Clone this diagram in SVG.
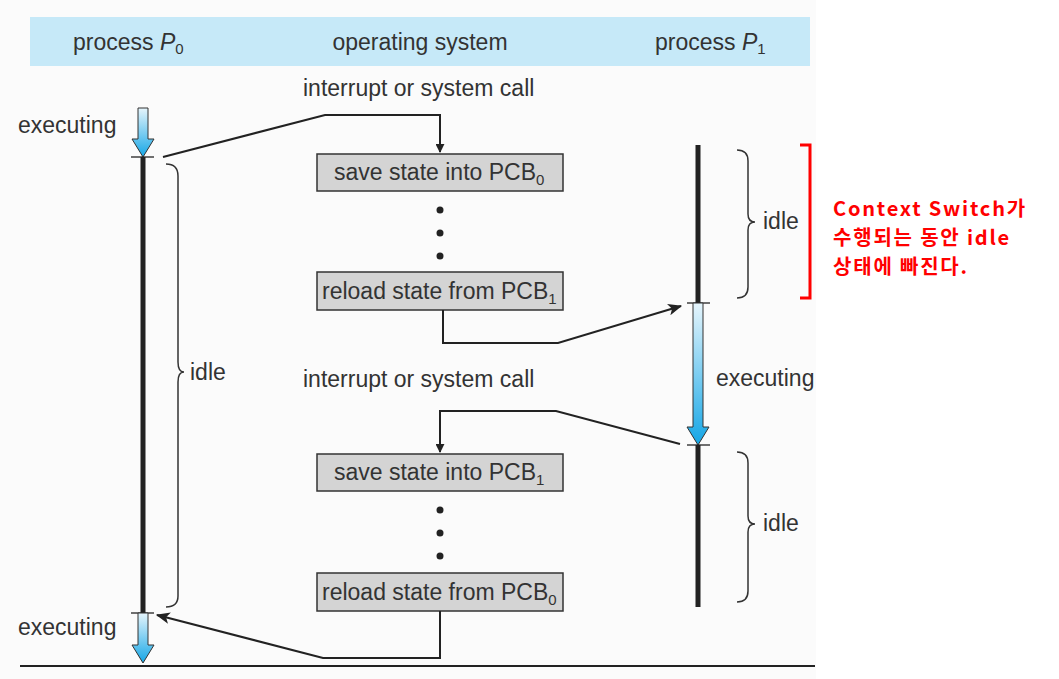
<svg xmlns="http://www.w3.org/2000/svg" width="1059" height="679" viewBox="0 0 1059 679">
<defs>
<linearGradient id="bg" x1="0" y1="0" x2="0" y2="1">
<stop offset="0" stop-color="#e6f5fc"/>
<stop offset="1" stop-color="#14a6e6"/>
</linearGradient>
<marker id="ah" viewBox="0 0 10 10" refX="9" refY="5" markerWidth="9" markerHeight="9" markerUnits="userSpaceOnUse" orient="auto">
<path d="M0,0 L10,5 L0,10 z" fill="#222"/>
</marker>
<marker id="ahb" viewBox="0 0 12 10" refX="11" refY="5" markerWidth="14" markerHeight="12" markerUnits="userSpaceOnUse" orient="auto">
<path d="M0,0 L12,5 L0,10 L3,5 z" fill="#222"/>
</marker>
</defs>
<style>
text{font-family:"Liberation Sans",Arial,sans-serif;font-size:23px;fill:#333}
.box{fill:#d4d4d4;stroke:#333;stroke-width:1.5}
.conn{fill:none;stroke:#222;stroke-width:2}
.tl{stroke:#222;stroke-width:5}
.tick{stroke:#222;stroke-width:1.3}
.brace{fill:none;stroke:#333;stroke-width:1.5}
.arr{fill:url(#bg);stroke:#333;stroke-width:1}
.red{font-family:"Noto Sans CJK KR","Noto Sans",sans-serif;font-weight:bold;fill:#ff0000;font-size:20px;letter-spacing:1.8px}
.sub{font-size:15px}
</style>
<rect width="1059" height="679" fill="#fff"/>
<rect x="0" y="0" width="816" height="679" fill="#fbfbfb"/>
<g id="header">
<rect x="30" y="17" width="780" height="49" fill="#c6e9f8"/>
<text x="73" y="50">process <tspan font-style="italic">P</tspan><tspan class="sub" dy="4">0</tspan></text>
<text x="420" y="50" text-anchor="middle">operating system</text>
<text x="655" y="50">process <tspan font-style="italic">P</tspan><tspan class="sub" dy="4">1</tspan></text>
</g>
<g id="p0">
<path class="arr" d="M138,108 H148 V139 H154 L143,157 L132,139 H138 Z"/>
<line class="tick" x1="131" y1="157" x2="154" y2="157"/>
<line class="tl" x1="143" y1="157" x2="143" y2="613"/>
<line class="tick" x1="131" y1="613" x2="154" y2="613"/>
<path class="arr" d="M138,613 H148 V645 H154 L143,663 L132,645 H138 Z"/>
<text x="18" y="133">executing</text>
<text x="18" y="635">executing</text>
<path class="brace" d="M166,164 Q178,164 178,176 V362 Q178,372 184,372 Q178,372 178,382 V596 Q178,607 166,607"/>
<text x="190" y="380">idle</text>
</g>
<g id="p1">
<line class="tl" x1="698" y1="145" x2="698" y2="303"/>
<line class="tick" x1="687" y1="303" x2="710" y2="303"/>
<path class="arr" d="M693,303 H703 V427 H709 L698,445 L687,427 H693 Z"/>
<line class="tick" x1="687" y1="445" x2="710" y2="445"/>
<line class="tl" x1="698" y1="445" x2="698" y2="607"/>
<text x="716" y="386">executing</text>
<path class="brace" d="M737,150 Q748,150 748,161 V214 Q748,222 755,222 Q748,222 748,230 V287 Q748,298 737,298"/>
<text x="763" y="229">idle</text>
<path class="brace" d="M737,452 Q748,452 748,463 V516 Q748,524 755,524 Q748,524 748,532 V591 Q748,602 737,602"/>
<text x="763" y="531">idle</text>
</g>
<g id="os">
<text x="303" y="96">interrupt or system call</text>
<text x="303" y="387">interrupt or system call</text>
<rect class="box" x="317" y="154" width="246" height="37"/>
<text x="334" y="180">save state into PCB<tspan class="sub" dy="5">0</tspan></text>
<rect class="box" x="317" y="272" width="246" height="38"/>
<text x="322" y="299">reload state from PCB<tspan class="sub" dy="5">1</tspan></text>
<rect class="box" x="317" y="454" width="246" height="37"/>
<text x="334" y="480">save state into PCB<tspan class="sub" dy="5">1</tspan></text>
<rect class="box" x="317" y="573" width="246" height="38"/>
<text x="322" y="600">reload state from PCB<tspan class="sub" dy="5">0</tspan></text>
<g fill="#222">
<circle cx="440" cy="210" r="3.5"/><circle cx="440" cy="233" r="3.5"/><circle cx="440" cy="256" r="3.5"/>
<circle cx="440" cy="510" r="3.5"/><circle cx="440" cy="533" r="3.5"/><circle cx="440" cy="556" r="3.5"/>
</g>
</g>
<g id="connectors">
<path class="conn" d="M163,157 L325,115 H440 V152" marker-end="url(#ah)"/>
<path class="conn" d="M443,310 V343 H558 L681,306" marker-end="url(#ahb)"/>
<path class="conn" d="M680,444 L556,411 H440 V452" marker-end="url(#ah)"/>
<path class="conn" d="M440,611 V658 H323 L157,615" marker-end="url(#ahb)"/>
<line x1="20" y1="666" x2="815" y2="666" stroke="#222" stroke-width="2"/>
</g>
<g id="note">
<path d="M800,145 H810 V298 H800" fill="none" stroke="#ff0000" stroke-width="3"/>
<text class="red" x="833" y="216">Context Switch가</text>
<text class="red" x="833" y="245">수행되는 동안 idle</text>
<text class="red" x="833" y="274">상태에 빠진다.</text>
</g>
</svg>
